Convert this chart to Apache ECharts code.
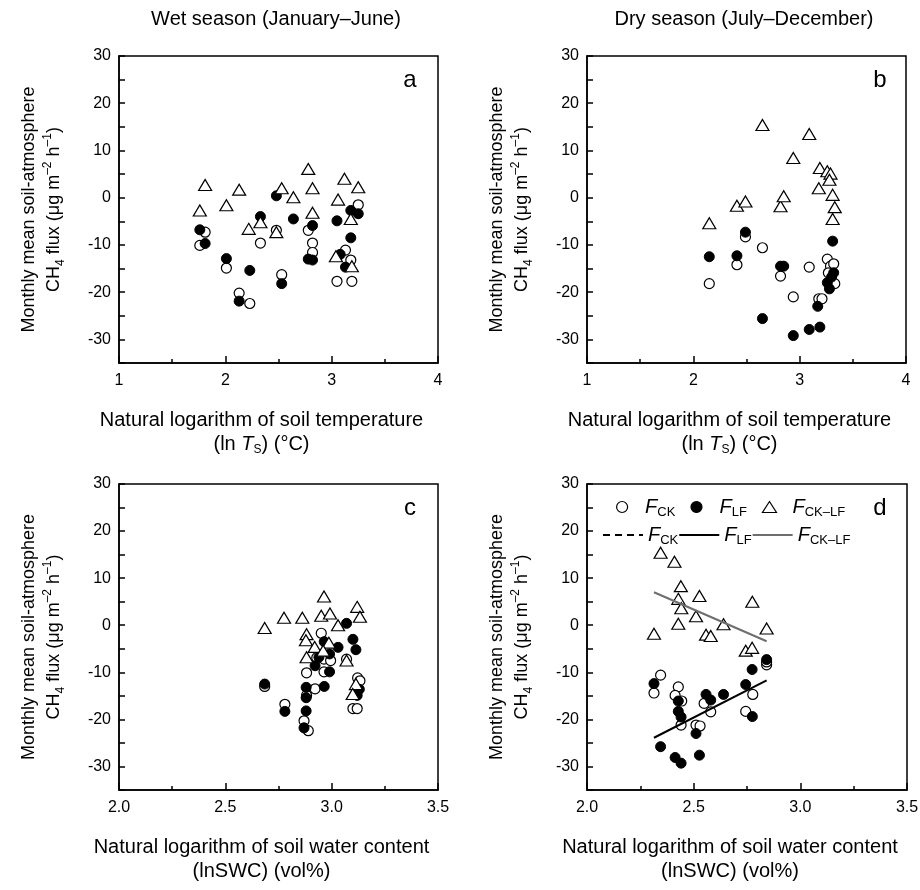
<!DOCTYPE html>
<html>
<head>
<meta charset="utf-8">
<script src="https://cdn.jsdelivr.net/npm/echarts@6/dist/echarts.min.js"></script>
<style>
  html, body { margin: 0; padding: 0; background: #fff; }
  #chart { width: 920px; height: 890px; }
</style>
</head>
<body>
<div id="chart"></div>
<script>
var FONT = 'Arial, "Liberation Sans", sans-serif';

// wet season (Jan-Jun) vs ln soil temperature
var aCK = [[1.81,-7.3],[1.76,-10.1],[2.01,-14.9],[2.13,-20.2],[2.23,-22.4],[2.33,-9.6],[2.48,-6.9],[2.53,-16.3],[2.78,-6.9],[2.82,-9.6],[2.82,-11.6],[3.05,-17.7],[3.19,-17.7],[3.25,-1.5],[3.13,-11.1],[3.18,-13.2]];
var aLF = [[1.76,-6.8],[1.81,-9.7],[2.01,-12.9],[2.23,-15.4],[2.13,-21.9],[2.33,-4.0],[2.48,0.4],[2.53,-18.2],[2.64,-4.5],[2.82,-5.9],[2.78,-13.0],[2.82,-13.2],[3.05,-4.9],[3.18,-2.7],[3.25,-3.4],[3.18,-8.5],[3.13,-14.7],[3.08,-12.0]];
var aCKLF = [[1.81,2.7],[1.76,-2.7],[2.13,1.7],[2.01,-1.6],[2.22,-6.6],[2.33,-5.2],[2.48,-7.3],[2.53,2.0],[2.64,0.1],[2.78,6.1],[2.82,2.0],[2.82,-3.2],[3.12,4.0],[3.25,2.2],[3.06,-0.4],[3.18,-4.5],[3.04,-12.4],[3.19,-14.5]];

// dry season (Jul-Dec) vs ln soil temperature
var bCK = [[2.15,-18.2],[2.41,-14.2],[2.49,-8.3],[2.65,-10.6],[2.82,-16.6],[2.94,-21.0],[3.09,-14.7],[3.18,-21.4],[3.21,-21.4],[3.26,-13.0],[3.29,-14.5],[3.32,-14.0],[3.27,-15.9],[3.33,-18.2]];
var bLF = [[2.15,-12.5],[2.41,-12.3],[2.49,-7.3],[2.65,-25.6],[2.82,-14.5],[2.85,-14.5],[2.94,-29.2],[3.09,-27.9],[3.19,-27.4],[3.17,-23.0],[3.26,-18.0],[3.28,-19.3],[3.32,-15.9],[3.31,-9.2],[3.30,-16.8]];
var bCKLF = [[2.15,-5.4],[2.41,-1.7],[2.49,-0.8],[2.65,15.4],[2.82,-1.8],[2.85,0.3],[2.94,8.4],[3.09,13.5],[3.18,2.0],[3.19,6.3],[3.26,5.6],[3.29,5.1],[3.28,3.8],[3.31,0.6],[3.33,-2.0],[3.31,-4.5]];

// wet season vs ln soil water content
var cCK = [[2.685,-13.0],[2.78,-16.8],[2.87,-20.3],[2.89,-22.4],[2.951,-1.7],[2.882,-10.1],[2.964,-7.2],[2.995,-7.5],[2.964,-9.9],[3.07,-7.2],[2.922,-13.5],[3.122,-11.2],[3.133,-11.8],[2.882,-14.9],[3.10,-17.7],[3.12,-17.7],[2.93,-6.9]];
var cLF = [[2.685,-12.5],[2.78,-18.3],[2.87,-21.8],[2.88,-15.4],[2.88,-13.2],[2.922,-8.6],[2.965,-13.0],[2.99,-9.9],[2.965,-3.5],[2.99,-6.1],[3.03,-4.7],[3.07,0.4],[3.10,-3.0],[3.114,-5.2],[2.94,-6.8],[3.13,-13.6],[3.12,-14.9],[2.88,-18.2]];
var cCKLF = [[2.685,-0.6],[2.776,1.6],[2.862,1.6],[2.951,2.0],[2.992,2.5],[2.964,6.1],[3.03,0],[3.12,3.9],[3.133,1.8],[2.882,-1.9],[2.879,-3.2],[2.92,-4.6],[2.987,-3.7],[2.96,-5.4],[2.882,-6.8],[3.07,-7.5],[3.114,-12.5],[3.099,-14.6]];

// dry season vs ln soil water content
var dCK = [[2.345,-10.6],[2.314,-14.4],[2.428,-13.1],[2.413,-14.9],[2.444,-16.1],[2.441,-21.2],[2.511,-21.2],[2.53,-21.4],[2.549,-16.6],[2.58,-18.4],[2.744,-18.3],[2.777,-14.7],[2.842,-8.4],[2.842,-7.8]];
var dLF = [[2.314,-12.4],[2.345,-25.8],[2.413,-28.1],[2.441,-29.3],[2.428,-16.1],[2.428,-18.3],[2.441,-19.5],[2.511,-23.0],[2.527,-27.6],[2.558,-14.7],[2.58,-15.9],[2.64,-14.7],[2.744,-12.6],[2.774,-9.4],[2.775,-19.4],[2.842,-7.3]];
var dCKLF = [[2.345,15.4],[2.41,13.5],[2.44,8.3],[2.527,6.2],[2.428,5.6],[2.442,3.6],[2.511,1.9],[2.428,0.3],[2.314,-1.8],[2.558,-2.0],[2.58,-2.3],[2.64,0.2],[2.775,5.0],[2.842,-0.7],[2.744,-5.4],[2.774,-4.8]];
var dFitLF = [[2.314,-23.9],[2.842,-11.7]];
var dFitCKLF = [[2.314,7.0],[2.842,-3.4]];

var yTicks = { min: -35, max: 30, step: 5 };
var seasonTitles = ['Wet season (January\u2013June)', 'Dry season (July\u2013December)'];
var panelLetters = ['a', 'b', 'c', 'd'];

var grids = [
  { left: 119, top: 56, width: 319, height: 307 },
  { left: 587, top: 56, width: 319, height: 307 },
  { left: 119, top: 484, width: 319, height: 306 },
  { left: 587, top: 484, width: 320, height: 306 }
].map(function (g) {
  return Object.assign({ show: true, borderColor: '#000', borderWidth: 1.5, outerBoundsMode: 'none' }, g);
});

var black = { color: '#000', width: 1.5 };

var yName = 'Monthly mean soil-atmosphere\nCH{sub|4} flux (\u03bcg m{sup|\u20132} h{sup|\u20131})';
var xNameT = 'Natural logarithm of soil temperature\n(ln {it|T}{sub|S}) (\u00b0C)';
var xNameW = 'Natural logarithm of soil water content\n(lnSWC) (vol%)';

function richFor(size, lh) {
  return {
    it: { fontFamily: FONT, fontSize: size, fontStyle: 'italic', lineHeight: lh, color: '#000' },
    sub: { fontFamily: FONT, fontSize: 12, verticalAlign: 'bottom', lineHeight: lh, color: '#000' },
    sup: { fontFamily: FONT, fontSize: 12, verticalAlign: 'top', lineHeight: lh, color: '#000' }
  };
}

function yAxis(gi) {
  return {
    gridIndex: gi, type: 'value',
    min: yTicks.min, max: yTicks.max, interval: yTicks.step,
    axisLine: { show: true, onZero: false, lineStyle: black },
    axisTick: { show: true, inside: true, length: 6, lineStyle: black },
    axisLabel: {
      color: '#000', fontSize: 16, fontFamily: FONT, margin: 8,
      formatter: function (v) { return v % 10 === 0 ? String(v) : ''; }
    },
    splitLine: { show: false },
    name: yName, nameLocation: 'middle', nameGap: 52,
    nameTextStyle: { color: '#000', fontSize: 18, fontFamily: FONT, lineHeight: 25, rich: richFor(18, 25) }
  };
}

function xAxis(gi, isTemp) {
  return {
    gridIndex: gi, type: 'value',
    min: isTemp ? 1 : 2, max: isTemp ? 4 : 3.5, interval: isTemp ? 1 : 0.5,
    axisLine: { show: true, onZero: false, lineStyle: black },
    axisTick: { show: true, inside: true, length: 7, lineStyle: black },
    minorTick: { show: true, splitNumber: 2, length: 4, lineStyle: black },
    axisLabel: {
      color: '#000', fontSize: 16, fontFamily: FONT, margin: 10,
      formatter: function (v) { return isTemp ? String(v) : v.toFixed(1); }
    },
    splitLine: { show: false },
    name: isTemp ? xNameT : xNameW, nameLocation: 'middle', nameGap: 45,
    nameTextStyle: { color: '#000', fontSize: 20, fontFamily: FONT, lineHeight: 24, padding: [0, 34, 0, 0], rich: richFor(20, 24) }
  };
}

var openStyle = { color: '#fff', borderColor: '#000', borderWidth: 1.2, opacity: 1 };
var fillStyle = { color: '#000', borderColor: '#000', borderWidth: 1, opacity: 1 };

function scatterSet(gi, ck, lf, cklf) {
  return [
    { name: 'CK', type: 'scatter', xAxisIndex: gi, yAxisIndex: gi, data: ck, symbol: 'circle', symbolSize: 10, itemStyle: openStyle, z: 3 },
    { name: 'LF', type: 'scatter', xAxisIndex: gi, yAxisIndex: gi, data: lf, symbol: 'circle', symbolSize: 10, itemStyle: fillStyle, z: 4 },
    { name: 'CKLF', type: 'scatter', xAxisIndex: gi, yAxisIndex: gi, data: cklf, symbol: 'triangle', symbolSize: [13, 11], itemStyle: openStyle, z: 5 }
  ];
}

var series = []
  .concat(scatterSet(0, aCK, aLF, aCKLF))
  .concat(scatterSet(1, bCK, bLF, bCKLF))
  .concat(scatterSet(2, cCK, cLF, cCKLF))
  .concat(scatterSet(3, dCK, dLF, dCKLF))
  .concat([
    { name: 'CK fit', type: 'line', xAxisIndex: 3, yAxisIndex: 3, data: [], symbol: 'none', showSymbol: false, color: '#000', lineStyle: { color: '#000', width: 2, type: [7, 5] } },
    { name: 'LF fit', type: 'line', xAxisIndex: 3, yAxisIndex: 3, data: dFitLF, symbol: 'none', showSymbol: false, color: '#000', lineStyle: { color: '#000', width: 2 }, z: 6 },
    { name: 'CKLF fit', type: 'line', xAxisIndex: 3, yAxisIndex: 3, data: dFitCKLF, symbol: 'none', showSymbol: false, color: '#6e6e6e', lineStyle: { color: '#6e6e6e', width: 2 }, z: 6 }
  ]);

var legendNames = {
  'CK': '{f|F}{s|CK}', 'LF': '{f|F}{s|LF}', 'CKLF': '{f|F}{s|CK\u2013LF}',
  'CK fit': '{f|F}{s|CK}', 'LF fit': '{f|F}{s|LF}', 'CKLF fit': '{f|F}{s|CK\u2013LF}'
};
var legendRich = {
  f: { fontFamily: FONT, fontSize: 20, fontStyle: 'italic', color: '#000', lineHeight: 24 },
  s: { fontFamily: FONT, fontSize: 13, color: '#000', verticalAlign: 'bottom', lineHeight: 24 }
};

var graphic = [
  { type: 'text', x: 276, y: 19, style: { text: seasonTitles[0], font: '20px ' + FONT, fill: '#000', align: 'center', verticalAlign: 'middle' } },
  { type: 'text', x: 744, y: 19, style: { text: seasonTitles[1], font: '20px ' + FONT, fill: '#000', align: 'center', verticalAlign: 'middle' } }
];
[[410, 80], [880, 80], [410, 508], [880, 508]].forEach(function (p, i) {
  graphic.push({ type: 'text', x: p[0], y: p[1], style: { text: panelLetters[i], font: '24px ' + FONT, fill: '#000', align: 'center', verticalAlign: 'middle' } });
});

var chart = echarts.init(document.getElementById('chart'), null, { renderer: 'canvas' });
chart.setOption({
  animation: false,
  backgroundColor: '#fff',
  grid: grids,
  xAxis: [xAxis(0, true), xAxis(1, true), xAxis(2, false), xAxis(3, false)],
  yAxis: [yAxis(0), yAxis(1), yAxis(2), yAxis(3)],
  legend: [
    {
      data: ['CK', 'LF', 'CKLF'], left: 611, top: 492, orient: 'horizontal',
      itemWidth: 14, itemHeight: 11, itemGap: 15, selectedMode: false,
      itemStyle: { borderWidth: 1.2, borderColor: '#000' },
      formatter: function (n) { return legendNames[n]; },
      textStyle: { padding: [0, 0, 0, 11], rich: legendRich }
    },
    {
      data: ['CK fit', 'LF fit', 'CKLF fit'], left: 597, top: 520, orient: 'horizontal',
      itemWidth: 40, itemHeight: 12, itemGap: 0, selectedMode: false,
      itemStyle: { opacity: 0 },
      formatter: function (n) { return legendNames[n]; },
      textStyle: { rich: legendRich }
    }
  ],
  graphic: graphic,
  series: series
});
</script>
</body>
</html>
